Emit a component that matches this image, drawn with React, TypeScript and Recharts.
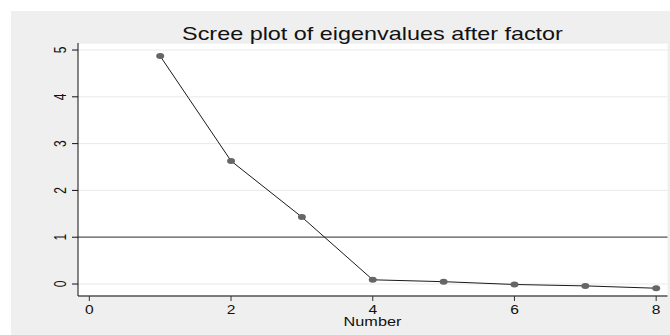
import React from 'react'
import { LineChart, Line, XAxis, YAxis, CartesianGrid, ReferenceLine } from 'recharts'

const numbers = [1, 2, 3, 4, 5, 6, 7, 8]
const eigenvalues = [4.87, 2.63, 1.43, 0.09, 0.05, -0.01, -0.04, -0.09]
const xTicks = [0, 2, 4, 6, 8]
const yTicks = [0, 1, 2, 3, 4, 5]

const data = numbers.map((n, i) => ({ number: n, eigen: eigenvalues[i] }))

const FONT = '"Liberation Sans", Arial, Helvetica, sans-serif'
const STRETCH = 1.3

const XTick = (props: any) => {
  const { x, payload } = props
  return (
    <text
      transform={`translate(${x},314) scale(${STRETCH},1)`}
      textAnchor="middle"
      fontSize={12}
      fontFamily={FONT}
      fill="#111"
    >
      {payload.value}
    </text>
  )
}

const YTick = (props: any) => {
  const { y, payload } = props
  return (
    <text
      transform={`translate(65.5,${y}) scale(${STRETCH},1) rotate(-90)`}
      textAnchor="middle"
      fontSize={12}
      fontFamily={FONT}
      fill="#111"
    >
      {payload.value}
    </text>
  )
}

const Dot = (props: any) => {
  const { cx, cy } = props
  if (cx == null || cy == null) return null
  return <ellipse cx={cx} cy={cy} rx={4} ry={3} fill="#666666" />
}

export default function App() {
  return (
    <div style={{ position: 'absolute', left: 0, top: 0, width: 670, height: 335, background: '#fff' }}>
      <div style={{ position: 'absolute', left: 11, top: 11, width: 659, height: 324, background: '#efefef' }} />
      <div style={{ position: 'absolute', left: 0, top: 0 }}>
        <LineChart
          width={670}
          height={335}
          data={data}
          margin={{ top: 43, right: 2.5, left: 0, bottom: 0 }}
        >
          <CartesianGrid vertical={false} stroke="#e9e9e9" strokeWidth={1} fill="#ffffff" />
          <XAxis
            dataKey="number"
            type="number"
            domain={[-0.16, 8.16]}
            ticks={xTicks}
            height={39}
            tickSize={5}
            tick={<XTick />}
            axisLine={{ stroke: '#555', strokeWidth: 1.5 }}
            tickLine={{ stroke: '#333' }}
          />
          <YAxis
            type="number"
            domain={[-0.256, 5.15]}
            ticks={yTicks}
            width={78}
            tickSize={6}
            tick={<YTick />}
            axisLine={{ stroke: '#111' }}
            tickLine={{ stroke: '#111' }}
          />
          <ReferenceLine y={1} stroke="#5a5a5a" strokeWidth={1.3} />
          <Line
            type="linear"
            dataKey="eigen"
            stroke="#1a1a1a"
            strokeWidth={1}
            dot={<Dot />}
            activeDot={false}
            isAnimationActive={false}
          />
        </LineChart>
      </div>
      <svg width={670} height={335} style={{ position: 'absolute', left: 0, top: 0, pointerEvents: 'none' }}>
        <text
          transform={`translate(372.5,40) scale(${STRETCH},1)`}
          textAnchor="middle"
          fontSize={18}
          fontFamily={FONT}
          fill="#111"
        >
          Scree plot of eigenvalues after factor
        </text>
        <text
          transform={`translate(372.5,325.5) scale(${STRETCH},1)`}
          textAnchor="middle"
          fontSize={12.5}
          fontFamily={FONT}
          fill="#111"
        >
          Number
        </text>
      </svg>
    </div>
  )
}
